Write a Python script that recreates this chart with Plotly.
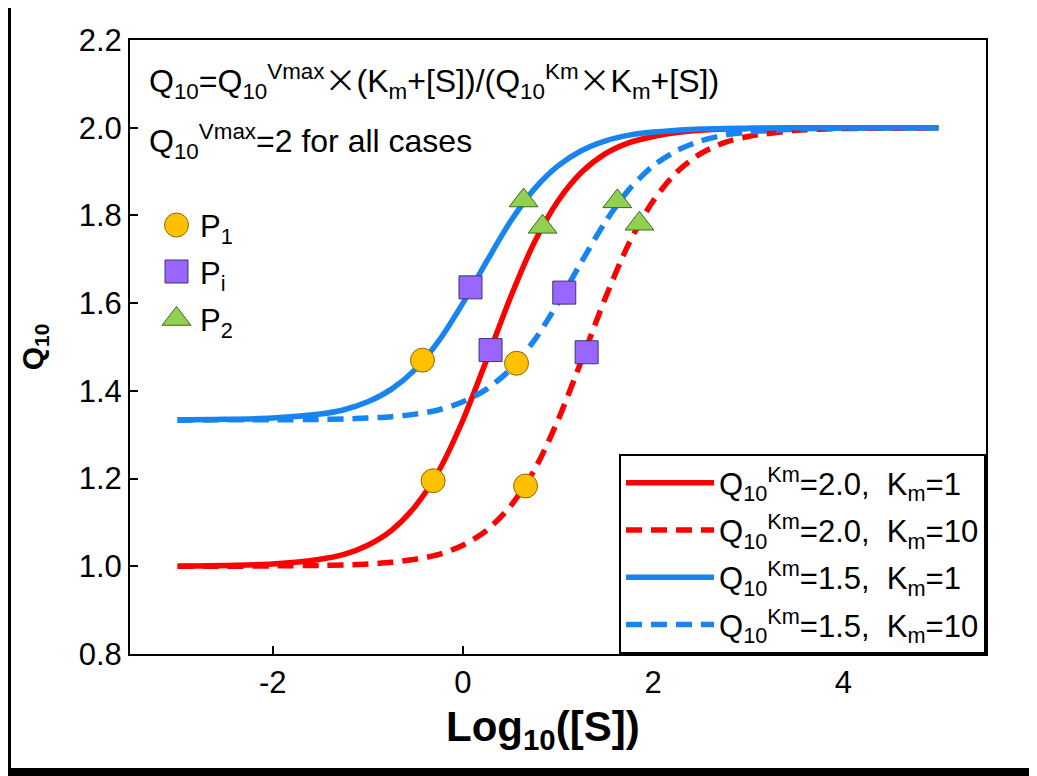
import plotly.graph_objects as go

# ---- data ----
log_s = [-3, -2.5, -2, -1.5, -1.25, -1, -0.75, -0.5, -0.25, 0, 0.25, 0.5, 0.75,
         1, 1.25, 1.5, 1.75, 2, 2.25, 2.5, 2.75, 3, 3.5, 4, 4.5, 5]

q_red_km1 = [1.000, 1.002, 1.005, 1.016, 1.027, 1.048, 1.082, 1.137, 1.219, 1.333,
             1.471, 1.613, 1.738, 1.833, 1.899, 1.941, 1.966, 1.980, 1.989, 1.994,
             1.997, 1.998, 1.999, 2.000, 2.000, 2.000]
q_red_km10 = [1.000, 1.000, 1.001, 1.002, 1.003, 1.005, 1.009, 1.016, 1.027, 1.048,
              1.082, 1.137, 1.219, 1.333, 1.471, 1.613, 1.738, 1.833, 1.899, 1.941,
              1.966, 1.980, 1.994, 1.998, 1.999, 2.000]
q_blue_km1 = [1.334, 1.335, 1.338, 1.347, 1.357, 1.375, 1.404, 1.449, 1.515, 1.600,
              1.695, 1.786, 1.860, 1.913, 1.948, 1.970, 1.983, 1.990, 1.994, 1.997,
              1.998, 1.999, 2.000, 2.000, 2.000, 2.000]
q_blue_km10 = [1.333, 1.334, 1.334, 1.335, 1.336, 1.338, 1.341, 1.347, 1.357, 1.375,
               1.404, 1.449, 1.515, 1.600, 1.695, 1.786, 1.860, 1.913, 1.948, 1.970,
               1.983, 1.990, 1.997, 1.999, 2.000, 2.000]

p1_x = [-0.425, 0.564, -0.313, 0.659]
p1_y = [1.470, 1.463, 1.195, 1.183]
pi_x = [0.080, 0.291, 1.066, 1.301]
pi_y = [1.636, 1.493, 1.624, 1.488]
p2_x = [0.638, 0.838, 1.624, 1.856]
p2_y = [1.834, 1.774, 1.832, 1.781]

y_ticks = [0.8, 1.0, 1.2, 1.4, 1.6, 1.8, 2.0, 2.2]
x_ticks = [-2, 0, 2, 4]

RED = "#FF0000"
BLUE = "#1784F0"
FONT = "Liberation Sans, Arial, sans-serif"
NB = "\u00a0"
TIMES = '<span style="font-family:Noto Sans CJK SC">×</span>'

# plot-area geometry in pixels (page coords: plot spans x 130..986, y 40..654)
PW, PH = 856, 614

fig = go.Figure()

curves = [
    (q_red_km1, RED, "solid", f"Q<sub>10</sub><sup>Km</sup>=2.0,{NB}{NB}K<sub>m</sub>=1"),
    (q_red_km10, RED, "16px,9px", f"Q<sub>10</sub><sup>Km</sup>=2.0,{NB}{NB}K<sub>m</sub>=10"),
    (q_blue_km1, BLUE, "solid", f"Q<sub>10</sub><sup>Km</sup>=1.5,{NB}{NB}K<sub>m</sub>=1"),
    (q_blue_km10, BLUE, "16px,9px", f"Q<sub>10</sub><sup>Km</sup>=1.5,{NB}{NB}K<sub>m</sub>=10"),
]
for i, (ys, col, dash, name) in enumerate(curves):
    fig.add_trace(go.Scatter(
        x=log_s, y=ys, mode="lines", name=name, legendgroup=f"g{i}",
        line=dict(color=col, width=5.5, dash=dash, shape="spline", smoothing=0.8),
    ))

markers = [
    (p1_x, p1_y, "circle", 24, "#FFC000", "#8A6A00", "P<sub>1</sub>", 225),
    (pi_x, pi_y, "square", 23, "#9966FF", "#3E3470", "P<sub>i</sub>", 271.5),
    (p2_x, p2_y, "triangle-up", 25, "#92D050", "#3C6A1E", "P<sub>2</sub>", 319),
]
for xs, ys, sym, sz, fc, lc, name, ky in markers:
    mk = dict(symbol=sym, size=sz, color=fc, line=dict(color=lc, width=1))
    fig.add_trace(go.Scatter(x=xs, y=ys, mode="markers", name=name,
                             marker=mk, showlegend=False))
    # key symbol on an overlay axis spanning the plot area (0..1)
    fig.add_trace(go.Scatter(x=[(176.5 - 130) / PW], y=[(654 - ky) / PH],
                             xaxis="x2", yaxis="y2", mode="markers",
                             marker=mk, showlegend=False, hoverinfo="skip"))
    fig.add_annotation(xref="paper", yref="paper", x=(198 - 130) / PW,
                       y=(654 - ky - 4) / PH, xanchor="left", yanchor="middle",
                       text=name, showarrow=False,
                       font=dict(family=FONT, size=31, color="black"))

axis_common = dict(
    showline=True, linecolor="black", linewidth=2, mirror=True,
    ticks="inside", ticklen=8, tickwidth=2, tickcolor="black",
    showgrid=False, zeroline=False,
    tickfont=dict(family=FONT, size=31, color="black"),
)

fig.update_xaxes(
    range=[-3.5, 5.5], tickvals=x_ticks, ticktext=[str(v) for v in x_ticks],
    ticklabelstandoff=0,
    **axis_common,
)
fig.update_yaxes(
    range=[0.8, 2.2], tickvals=y_ticks, ticktext=[f"{v:.1f}" for v in y_ticks],
    ticklabelstandoff=0,
    title=dict(text="<b>Q<sub>10</sub></b>", font=dict(family=FONT, size=30, color="black"),
               standoff=26),
    **axis_common,
)

# x-axis title
fig.add_annotation(
    xref="paper", yref="paper", x=(543 - 130) / PW, y=(654 - 729) / PH,
    xanchor="center", yanchor="middle",
    text="<b>Log<sub>10</sub>([S])</b>", showarrow=False,
    font=dict(family=FONT, size=42, color="black"),
)

fig.add_annotation(
    xref="paper", yref="paper", x=(147 - 130) / PW, y=(654 - 79.5) / PH,
    xanchor="left", yanchor="middle",
    text=f"Q<sub>10</sub>=Q<sub>10</sub><sup>Vmax</sup>{TIMES}(K<sub>m</sub>+[S])/(Q<sub>10</sub><sup>Km</sup>{TIMES}K<sub>m</sub>+[S])",
    showarrow=False, font=dict(family=FONT, size=32, color="black"),
)
fig.add_annotation(
    xref="paper", yref="paper", x=(147 - 130) / PW, y=(654 - 141.5) / PH,
    xanchor="left", yanchor="middle",
    text="Q<sub>10</sub><sup>Vmax</sup>=2 for all cases",
    showarrow=False, font=dict(family=FONT, size=32, color="black"),
)

# black strips at the image edges (border of the original picture)
fig.add_shape(type="rect", xref="paper", yref="paper", x0=-122 / PW, x1=-119 / PW,
              y0=-122 / PH, y1=1.06, fillcolor="black", line_width=0, layer="above")
fig.add_shape(type="rect", xref="paper", yref="paper", x0=-122 / PW, x1=1.06,
              y0=-122 / PH, y1=-114 / PH, fillcolor="black", line_width=0, layer="above")

fig.update_layout(
    width=1029, height=768,
    margin=dict(l=122, r=51, t=32, b=122),
    paper_bgcolor="white", plot_bgcolor="white",
    font=dict(family=FONT, color="black"),
    xaxis2=dict(overlaying="x", range=[0, 1], visible=False, fixedrange=True),
    yaxis2=dict(overlaying="y", range=[0, 1], visible=False, fixedrange=True),
    legend=dict(
        x=1, y=0, xanchor="right", yanchor="bottom",
        bgcolor="white", bordercolor="black", borderwidth=2,
        font=dict(family=FONT, size=31, color="black"),
        itemwidth=88, tracegroupgap=4,
    ),
    showlegend=True,
)

fig.write_html("out.html")
